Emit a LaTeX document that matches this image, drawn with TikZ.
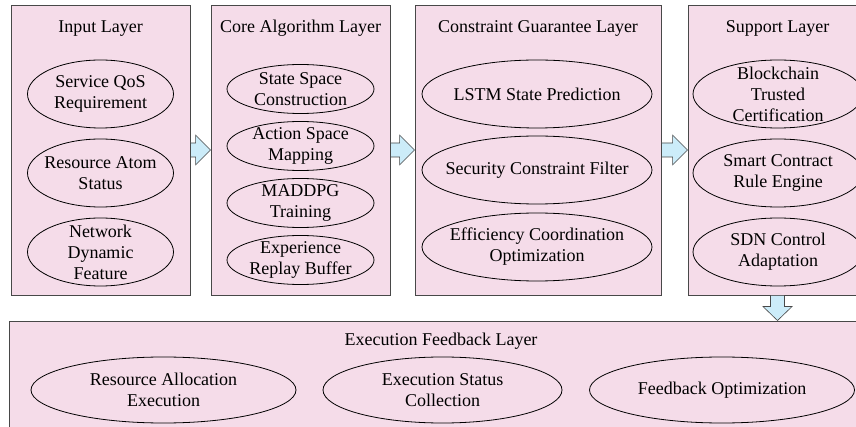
\documentclass[tikz,border=0pt]{standalone}
\usepackage{fontspec}
\setmainfont{Liberation Serif}
\usepackage{tikz}
\usetikzlibrary{calc, shapes.geometric}
\usepackage{xcolor}
\definecolor{layerPink}{RGB}{245, 220, 233}
\definecolor{flowBlue}{RGB}{204, 236, 249}
\definecolor{edgeGray}{RGB}{72, 72, 72}

\begin{document}
\begin{tikzpicture}[x=1pt, y=-1pt, font=\fontsize{18}{21}\selectfont,
  layer/.style={draw=edgeGray, fill=layerPink, line width=0.9pt, inner sep=0pt},
  oval/.style={draw, ellipse, line width=0.8pt, inner sep=0pt},
  lbl/.style={align=center, inner sep=0pt},
  flow/.style={draw=edgeGray, fill=flowBlue, line width=0.6pt}]
  \clip (0,0) rectangle (856,427);

  % Layer boxes
  \node[layer, minimum width=179, minimum height=290] (inBox) at (100.5,150) {};
  \node[layer, minimum width=179, minimum height=290] (coreBox) at (300.5,150) {};
  \node[layer, minimum width=246, minimum height=290] (conBox) at (538,150) {};
  \node[layer, minimum width=179, minimum height=290] (supBox) at (777.5,150) {};
  \node[layer, minimum width=864, minimum height=124] (exeBox) at (441,383) {};

  % Layer titles
  \node (inTitle) at ([yshift=-24pt]inBox.north) {Input Layer};
  \node (coreTitle) at ([yshift=-24pt]coreBox.north) {Core Algorithm Layer};
  \node (conTitle) at ([yshift=-24pt]conBox.north) {Constraint Guarantee Layer};
  \node (supTitle) at ([yshift=-24pt]supBox.north) {Support Layer};
  \node (exeTitle) at (441,341) {Execution Feedback Layer};

  % Input layer
  \foreach \n/\y/\t in {inQos/94/{Service QoS\\Requirement}, inAtom/173/{Resource Atom\\Status}, inNet/252/{Network\\Dynamic\\Feature}} {
    \node[oval, minimum width=146, minimum height=68] (\n) at (100.5,\y) {};
    \node[lbl] (\n-t) at (\n) {\t};
  }

  % Core algorithm layer
  \foreach \n/\y/\t in {coreState/89/{State Space\\Construction}, coreAction/146/{Action Space\\Mapping}, coreTrain/203/{MADDPG\\Training}, coreBuf/260/{Experience\\Replay Buffer}} {
    \node[oval, minimum width=147, minimum height=49] (\n) at (300.5,\y) {};
    \node[lbl] (\n-t) at (\n) {\t};
  }

  % Constraint guarantee layer
  \foreach \n/\y/\t in {conLstm/94/{LSTM State Prediction}, conSec/170/{Security Constraint Filter}, conEff/247/{Efficiency Coordination\\Optimization}} {
    \node[oval, minimum width=230, minimum height=68] (\n) at (537,\y) {};
    \node[lbl] (\n-t) at (\n) {\t};
  }

  % Support layer
  \foreach \n/\y/\t in {supChain/94/{Blockchain\\Trusted\\Certification}, supRule/173/{Smart Contract\\Rule Engine}, supSdn/252/{SDN Control\\Adaptation}} {
    \node[oval, minimum width=170, minimum height=68] (\n) at (778,\y) {};
    \node[lbl] (\n-t) at (\n) {\t};
  }

  % Execution feedback layer
  \foreach \n/\x/\w/\t in {exeAlloc/163.5/265/{Resource Allocation\\Execution}, exeStat/442.5/239/{Execution Status\\Collection}, exeOpt/722/265/{Feedback Optimization}} {
    \node[oval, minimum width=\w, minimum height=66] (\n) at (\x,390) {};
    \node[lbl] (\n-t) at (\n) {\t};
  }

  % Flow arrows
  \foreach \a/\b in {inBox/coreBox, coreBox/conBox, conBox/supBox}
    \draw[flow] ($(\a.east)+(0,-7)$) -- ($(\b.west)+(-15,-7)$) -- ($(\b.west)+(-15,-15)$)
      -- (\b.west) -- ($(\b.west)+(-15,15)$) -- ($(\b.west)+(-15,7)$) -- ($(\a.east)+(0,7)$) -- cycle;
  \coordinate (downTip) at (supBox.south |- exeBox.north);
  \draw[flow] ($(supBox.south)+(-7,0)$) -- ($(downTip)+(-7,-14)$) -- ($(downTip)+(-14.5,-14)$)
    -- (downTip) -- ($(downTip)+(14.5,-14)$) -- ($(downTip)+(7,-14)$) -- ($(supBox.south)+(7,0)$) -- cycle;
\end{tikzpicture}
\end{document}
